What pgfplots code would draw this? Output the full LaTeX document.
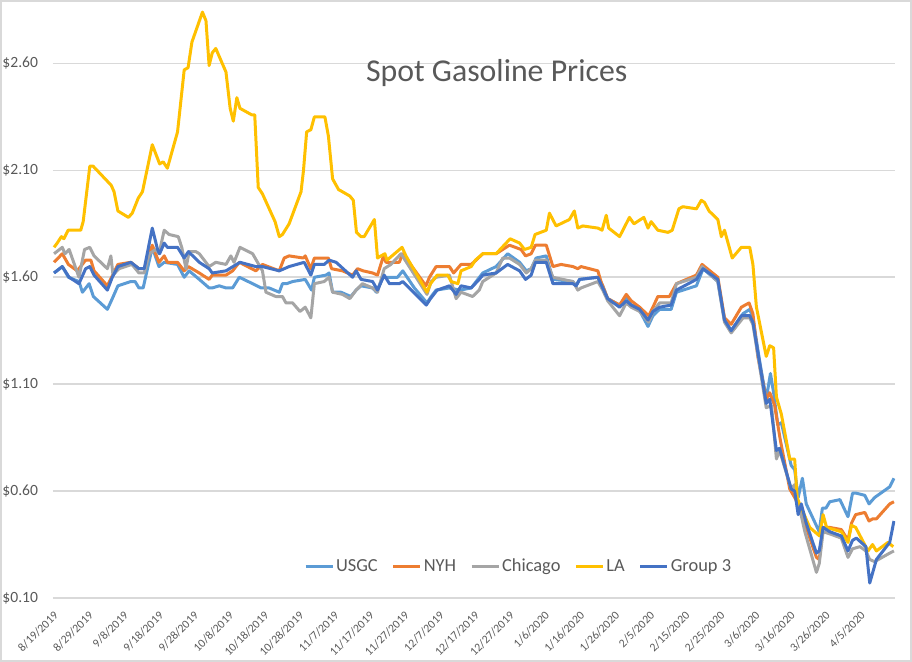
\documentclass[border=0pt]{standalone}
\usepackage{fontspec}
\setmainfont{Carlito}
\usepackage{pgfplots}
\pgfplotsset{compat=1.18}
\definecolor{cUSGC}{HTML}{5B9BD5}
\definecolor{cNYH}{HTML}{ED7D31}
\definecolor{cCHI}{HTML}{A5A5A5}
\definecolor{cLA}{HTML}{FFC000}
\definecolor{cG3}{HTML}{4472C4}
\definecolor{txt}{HTML}{595959}
\definecolor{gridgray}{HTML}{D9D9D9}
\begin{document}
\begin{tikzpicture}
\begin{axis}[
  scale only axis, width=421pt, height=294pt,
  at={(26.5pt,32pt)}, anchor=south west,
  xmin=0, xmax=240, ymin=0.10, ymax=2.85,
  axis line style={draw=none},
  major tick length=0pt,
  xmajorgrids=false, ymajorgrids=true,
  y grid style={gridgray, line width=0.8pt},
  ytick={0.1,0.6,1.1,1.6,2.1,2.6},
  yticklabels={\$0.10,\$0.60,\$1.10,\$1.60,\$2.10,\$2.60},
  yticklabel style={font=\fontsize{7.8}{9}\selectfont, text=txt, anchor=east, inner sep=0pt, xshift=-7.3pt},
  xtick={0,10,...,230},
  xticklabels={8/19/2019,8/29/2019,9/8/2019,9/18/2019,9/28/2019,10/8/2019,10/18/2019,10/28/2019,11/7/2019,11/17/2019,11/27/2019,12/7/2019,12/17/2019,12/27/2019,1/6/2020,1/16/2020,1/26/2020,2/5/2020,2/15/2020,2/25/2020,3/6/2020,3/16/2020,3/26/2020,4/5/2020},
  xticklabel style={font=\fontsize{5.9}{7}\selectfont, text=txt, yshift=-6pt, rotate=45, anchor=north east, inner sep=0pt},
  every axis plot/.append style={line width=1.5pt, line join=round, mark=none},
  legend columns=5,
  legend style={draw=none, fill=none, at={(0.553,0.053)}, anchor=center,
    font=\fontsize{9.2}{11}\selectfont, text=txt,
    nodes={inner sep=1pt},
    /tikz/every even column/.append style={column sep=6pt}},
  legend image code/.code={\draw[#1] (0pt,0pt) -- (13.5pt,0pt);},
]
\addplot[cUSGC] table {
0.3 1.62
2.65 1.65
4.4 1.60
7.4 1.58
8.4 1.53
10.3 1.57
11.5 1.51
15.5 1.45
16.9 1.50
18.5 1.56
22.2 1.58
23.4 1.58
24.5 1.55
25.7 1.55
28.3 1.74
30.2 1.65
31.7 1.67
35.5 1.66
37.4 1.60
38.8 1.63
41.7 1.59
44.5 1.55
45.4 1.55
47.4 1.56
49.3 1.55
51.2 1.55
53.1 1.60
56.9 1.57
59.3 1.55
61.6 1.55
64.5 1.53
65.4 1.57
66.6 1.57
68.3 1.58
71.9 1.59
73.7 1.54
74.5 1.60
77.8 1.61
78.7 1.62
79.7 1.53
82.1 1.53
84.9 1.51
86.4 1.54
87.8 1.56
91.1 1.55
92.2 1.53
94.0 1.60
96.3 1.60
98.2 1.60
99.7 1.63
103.0 1.55
106.6 1.48
107.8 1.51
109.2 1.54
113.0 1.55
116.0 1.54
119.2 1.55
122.5 1.62
126.3 1.65
129.6 1.71
133.0 1.67
134.9 1.63
136.3 1.64
137.7 1.69
140.6 1.70
142.5 1.59
148.2 1.58
149.1 1.56
150.1 1.59
155.3 1.60
156.7 1.56
158.1 1.50
161.5 1.47
163.4 1.51
164.8 1.47
166.7 1.46
169.6 1.37
171.0 1.42
172.9 1.45
176.2 1.45
177.7 1.53
183.4 1.56
185.3 1.64
189.5 1.58
191.4 1.40
193.3 1.35
196.7 1.43
198.6 1.45
199.5 1.41
201.4 1.21
203.3 1.03
204.5 1.15
205.4 1.06
206.6 0.91
207.6 0.92
210.4 0.72
211.4 0.70
212.4 0.57
213.6 0.66
214.7 0.54
218.4 0.41
219.3 0.52
220.3 0.52
221.4 0.55
224.3 0.56
226.6 0.48
227.9 0.59
229.0 0.59
231.4 0.58
232.6 0.54
234.2 0.57
238.5 0.62
239.7 0.66
};
\addlegendentry{USGC}
\addplot[cNYH] table {
0.3 1.67
2.65 1.71
4.4 1.66
6.9 1.63
9.3 1.68
10.8 1.68
11.7 1.63
15.5 1.56
16.7 1.60
18.5 1.66
22.2 1.67
24.5 1.64
26.0 1.64
28.3 1.75
30.2 1.67
31.7 1.70
32.6 1.67
35.5 1.67
37.4 1.63
38.6 1.65
41.7 1.62
44.5 1.59
45.4 1.61
49.3 1.61
51.2 1.63
53.1 1.67
57.8 1.63
59.7 1.66
64.5 1.63
65.9 1.69
67.3 1.70
71.3 1.69
71.9 1.70
73.5 1.64
74.5 1.69
78.5 1.69
79.4 1.64
82.5 1.63
85.4 1.61
86.8 1.64
88.4 1.63
91.1 1.62
92.5 1.61
94.2 1.70
94.9 1.67
98.7 1.67
99.7 1.71
106.3 1.56
107.3 1.60
109.2 1.65
113.0 1.65
114.2 1.62
116.3 1.66
119.2 1.66
120.6 1.68
122.5 1.71
126.3 1.71
130.1 1.75
133.4 1.73
134.7 1.70
136.3 1.71
137.5 1.75
140.6 1.75
142.5 1.65
144.8 1.66
148.2 1.65
149.6 1.64
150.5 1.65
155.3 1.63
156.2 1.58
158.1 1.50
161.5 1.47
163.4 1.52
164.8 1.49
167.2 1.46
169.8 1.42
171.0 1.46
172.4 1.51
175.7 1.51
177.7 1.57
183.4 1.61
185.0 1.66
189.5 1.60
191.4 1.41
193.3 1.38
196.2 1.46
198.4 1.48
199.5 1.43
200.9 1.23
203.3 1.03
204.3 1.06
205.7 1.00
207.3 0.84
210.0 0.61
211.4 0.57
212.4 0.54
217.6 0.29
218.4 0.28
219.5 0.43
221.4 0.43
224.7 0.42
226.6 0.37
227.6 0.45
228.8 0.49
231.4 0.50
232.6 0.46
233.6 0.47
234.7 0.47
238.5 0.54
239.7 0.55
};
\addlegendentry{NYH}
\addplot[cCHI] table {
0.3 1.71
2.65 1.74
3.4 1.71
4.6 1.73
7.4 1.60
9.0 1.73
10.5 1.74
11.7 1.70
15.5 1.64
16.5 1.70
17.1 1.61
18.8 1.64
22.5 1.66
24.5 1.62
26.0 1.62
27.4 1.71
29.3 1.73
30.2 1.71
31.7 1.82
33.1 1.80
35.7 1.79
36.7 1.74
37.9 1.64
38.8 1.72
40.7 1.72
41.7 1.71
44.5 1.65
46.4 1.67
49.3 1.66
50.7 1.70
51.6 1.67
53.3 1.74
56.9 1.71
59.7 1.63
60.7 1.53
63.5 1.51
65.4 1.51
66.4 1.48
68.3 1.48
70.4 1.44
71.9 1.46
73.5 1.41
74.5 1.57
77.3 1.58
78.7 1.60
79.7 1.53
82.5 1.52
84.6 1.50
86.4 1.54
88.2 1.57
91.1 1.55
92.5 1.53
94.4 1.64
96.3 1.66
99.2 1.71
106.6 1.52
107.8 1.58
109.2 1.60
113.0 1.61
114.9 1.50
116.3 1.53
119.6 1.51
121.5 1.54
122.5 1.58
126.3 1.62
128.2 1.69
130.1 1.69
133.0 1.66
134.9 1.62
136.3 1.64
137.5 1.68
140.6 1.68
142.5 1.60
145.3 1.59
148.2 1.58
149.6 1.54
150.5 1.55
155.3 1.58
156.7 1.54
158.1 1.49
161.5 1.42
163.4 1.48
164.8 1.46
167.2 1.44
169.8 1.39
171.0 1.44
172.9 1.48
176.2 1.48
177.7 1.57
183.4 1.60
185.0 1.65
189.5 1.58
191.4 1.39
193.3 1.34
196.7 1.41
198.6 1.41
199.5 1.38
203.3 0.99
204.8 1.00
206.2 0.75
207.1 0.79
210.4 0.61
211.4 0.63
212.4 0.55
214.3 0.41
217.6 0.22
218.4 0.26
219.5 0.41
221.4 0.40
224.7 0.38
226.6 0.29
227.9 0.33
230.0 0.34
231.7 0.32
232.8 0.28
234.2 0.27
238.5 0.31
239.7 0.32
};
\addlegendentry{Chicago}
\addplot[cLA] table {
0.3 1.74
1.2 1.76
2.4 1.79
3.1 1.78
4.3 1.82
7.9 1.82
8.6 1.86
10.5 2.12
11.4 2.12
16.6 2.03
17.4 2.00
18.5 1.91
21.5 1.88
22.6 1.90
24.3 1.97
25.5 2.00
28.3 2.22
30.4 2.13
31.4 2.14
32.6 2.11
35.5 2.28
37.4 2.57
38.5 2.58
39.6 2.70
42.6 2.84
43.6 2.80
44.5 2.59
45.4 2.65
46.4 2.67
49.3 2.56
50.5 2.39
51.4 2.33
52.4 2.44
53.3 2.39
56.6 2.36
57.5 2.36
58.5 2.02
59.7 1.99
63.3 1.86
64.5 1.79
65.4 1.80
67.3 1.85
70.7 2.00
71.4 2.10
72.3 2.28
73.5 2.29
74.5 2.35
77.5 2.35
78.5 2.26
79.7 2.06
81.4 2.01
82.5 2.00
84.6 1.98
85.6 1.96
86.5 1.81
87.8 1.79
88.7 1.79
91.6 1.87
92.5 1.69
93.5 1.70
94.6 1.71
95.2 1.68
99.5 1.74
100.6 1.70
106.6 1.53
107.6 1.57
109.5 1.61
112.5 1.61
113.5 1.58
115.4 1.57
116.3 1.63
119.2 1.65
120.4 1.68
122.5 1.71
126.3 1.71
130.3 1.78
133.0 1.76
134.4 1.73
136.3 1.74
137.4 1.80
140.6 1.82
141.5 1.90
143.4 1.84
147.2 1.87
148.6 1.91
149.6 1.83
151.0 1.84
155.3 1.83
156.5 1.82
157.7 1.89
158.4 1.83
161.5 1.79
164.3 1.88
165.6 1.85
168.4 1.88
169.6 1.83
170.5 1.86
172.4 1.82
175.3 1.81
176.5 1.82
178.4 1.92
179.5 1.93
183.4 1.92
184.8 1.96
185.7 1.95
187.0 1.91
189.5 1.87
190.5 1.79
191.4 1.82
193.6 1.69
196.2 1.74
198.6 1.74
199.5 1.66
200.5 1.46
203.3 1.23
204.3 1.28
205.4 1.27
206.2 1.04
207.6 0.96
210.0 0.75
211.4 0.75
212.1 0.57
212.8 0.54
215.7 0.43
218.5 0.39
219.5 0.49
220.5 0.43
224.7 0.41
226.6 0.36
227.6 0.44
228.8 0.43
232.3 0.32
233.6 0.35
234.7 0.32
238.0 0.36
239.5 0.34
};
\addlegendentry{LA}
\addplot[cG3] table {
0.3 1.62
2.65 1.65
4.6 1.60
7.4 1.57
9.3 1.64
10.5 1.65
11.7 1.61
15.5 1.54
16.9 1.60
18.5 1.65
22.2 1.67
24.5 1.64
26.0 1.64
28.3 1.83
29.8 1.73
30.4 1.71
31.7 1.76
32.6 1.74
35.5 1.74
37.4 1.69
38.6 1.72
41.7 1.67
44.5 1.64
45.4 1.62
49.3 1.63
53.3 1.67
57.8 1.65
59.7 1.65
64.5 1.63
67.3 1.65
71.6 1.67
73.5 1.61
74.5 1.66
77.3 1.66
78.7 1.68
80.7 1.67
85.4 1.60
86.4 1.63
87.8 1.59
91.1 1.58
92.5 1.54
94.4 1.61
95.9 1.57
98.7 1.57
99.7 1.58
106.4 1.47
107.6 1.50
109.5 1.54
113.0 1.56
114.9 1.52
116.3 1.56
119.2 1.55
121.5 1.59
122.5 1.61
126.3 1.62
129.6 1.66
133.0 1.63
134.7 1.59
136.3 1.61
137.5 1.67
140.6 1.67
142.5 1.57
148.2 1.57
149.1 1.56
150.1 1.59
155.3 1.60
156.7 1.55
158.1 1.50
161.5 1.46
163.4 1.49
164.8 1.47
167.2 1.45
169.6 1.40
171.0 1.44
172.9 1.46
176.2 1.47
177.7 1.54
183.4 1.59
185.3 1.64
189.5 1.59
191.4 1.40
193.3 1.35
196.2 1.42
198.6 1.42
199.5 1.39
201.4 1.20
203.3 1.01
204.3 1.03
206.2 0.79
207.1 0.80
210.4 0.61
211.4 0.60
212.4 0.49
213.3 0.54
214.7 0.45
217.6 0.31
218.4 0.32
219.5 0.43
221.4 0.41
224.7 0.39
226.6 0.32
227.9 0.37
229.0 0.38
231.7 0.34
232.8 0.17
234.7 0.28
238.5 0.36
239.7 0.46
};
\addlegendentry{Group 3}
\node[anchor=base, font=\fontsize{15.9}{18}\selectfont, text=txt] at (rel axis cs:0.527,0.879) {Spot Gasoline Prices};
\end{axis}
\draw[gridgray, line width=1pt] (0.5pt,0.5pt) rectangle (455.5pt,330.5pt);
\pgfresetboundingbox
\path[use as bounding box] (0,0) rectangle (456pt,331pt);
\end{tikzpicture}
\end{document}
